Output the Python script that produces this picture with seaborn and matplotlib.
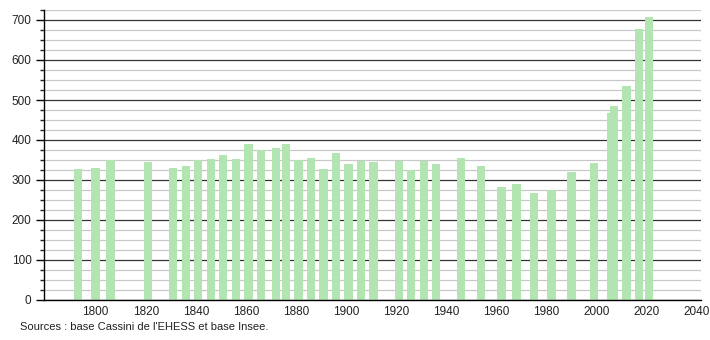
import matplotlib
matplotlib.use("Agg")
import matplotlib.pyplot as plt
import seaborn as sns
import pandas as pd
from matplotlib.ticker import MultipleLocator

years = [1793, 1800, 1806, 1821, 1831, 1836, 1841, 1846, 1851, 1856,
         1861, 1866, 1872, 1876, 1881, 1886, 1891, 1896, 1901, 1906,
         1911, 1921, 1926, 1931, 1936, 1946, 1954, 1962, 1968, 1975,
         1982, 1990, 1999, 2006, 2007, 2012, 2017, 2021]
population = [327, 330, 349, 345, 330, 335, 349, 352, 362, 352,
              390, 374, 380, 390, 349, 354, 328, 368, 340, 348,
              344, 348, 324, 348, 340, 354, 335, 282, 290, 268,
              274, 320, 342, 468, 485, 535, 677, 708]
x_ticks = [1800, 1820, 1840, 1860, 1880, 1900, 1920, 1940, 1960, 1980, 2000, 2020, 2040]
y_ticks = [0, 100, 200, 300, 400, 500, 600, 700]
source_text = "Sources : base Cassini de l'EHESS et base Insee."

sns.set_style("white")
plt.rcParams['font.family'] = ['Liberation Sans', 'DejaVu Sans']

df = pd.DataFrame({"year": years, "population": population})

fig = plt.figure(figsize=(7.1, 3.4), dpi=100)
ax = fig.add_axes([44 / 710, 40 / 340, 657 / 710, 290 / 340])

sns.barplot(data=df, x="year", y="population", native_scale=True, width=3.3,
            color="#b3e5b3", saturation=1, errorbar=None, ax=ax,
            linewidth=0, edgecolor="none", zorder=3)

ax.set_xlim(1779.4, 2041.7)
ax.set_ylim(0, 725)
ax.set_xticks(x_ticks)
ax.set_xticklabels([str(t) for t in x_ticks])
ax.yaxis.set_major_locator(MultipleLocator(100))
ax.yaxis.set_minor_locator(MultipleLocator(25))
ax.set_yticks(y_ticks)
ax.set_xlabel("")
ax.set_ylabel("")

ax.set_axisbelow(True)
ax.grid(False)
ax.yaxis.grid(True, which="major", color="#333333", linewidth=0.9, zorder=0)
ax.yaxis.grid(True, which="minor", color="#c8c8c8", linewidth=0.9, zorder=0)
ax.xaxis.grid(False)

for s in ["top", "right"]:
    ax.spines[s].set_visible(False)
ax.spines["left"].set_color("black")
ax.spines["bottom"].set_color("black")
ax.spines["left"].set_linewidth(1)
ax.spines["bottom"].set_linewidth(1)
ax.spines["left"].set_zorder(5)
ax.spines["bottom"].set_zorder(5)

ax.tick_params(axis="x", length=0, pad=4, labelsize=8.5, colors="#222222")
ax.tick_params(axis="y", which="major", length=6, width=1, direction="out", pad=3,
               labelsize=8.5, colors="black", labelcolor="#222222", left=True)
ax.tick_params(axis="y", which="minor", length=3, width=1, direction="out", left=True)

fig.text(20 / 710, 1 - 327 / 340, source_text, va="center", ha="left",
         fontsize=8, color="#222222")

fig.savefig("out.png", dpi=100)
